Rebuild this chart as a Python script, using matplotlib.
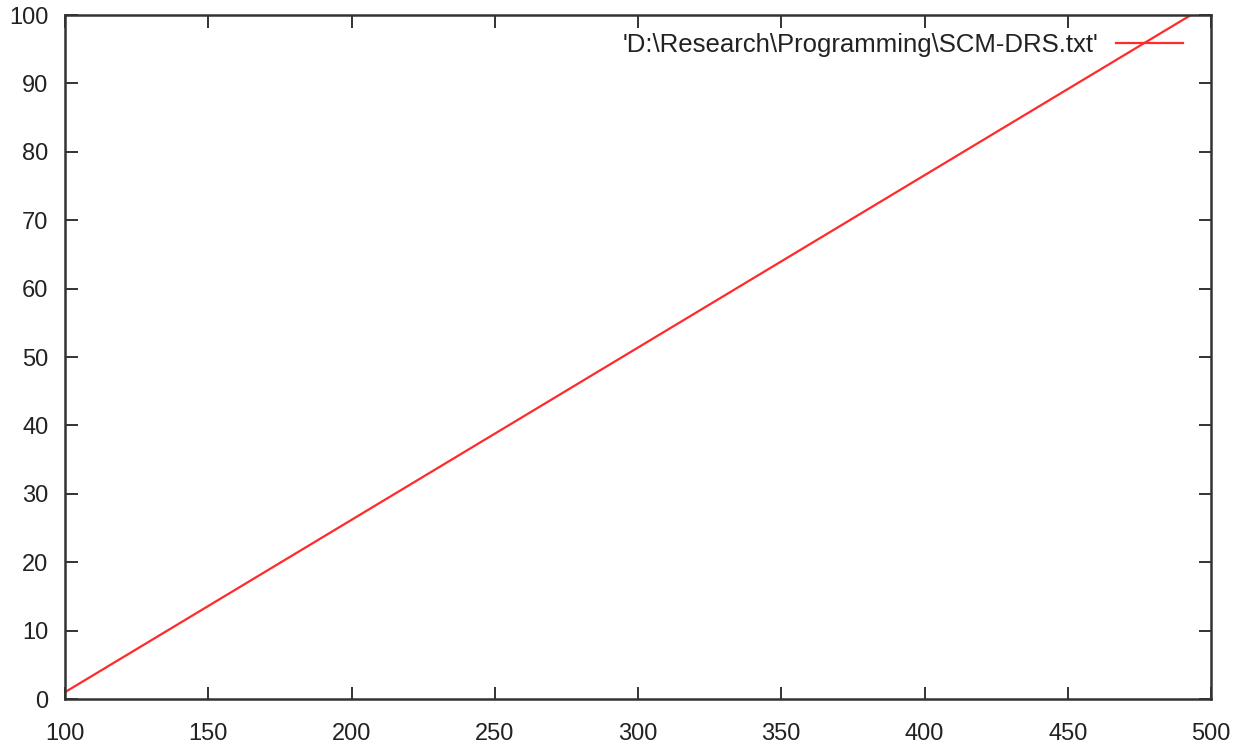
import matplotlib
matplotlib.use("Agg")
import matplotlib.pyplot as plt

# data
x = [100, 493]
y = [1, 100]
label = "'D:\\Research\\Programming\\SCM-DRS.txt'"
xticks = [100, 150, 200, 250, 300, 350, 400, 450, 500]
yticks = [0, 10, 20, 30, 40, 50, 60, 70, 80, 90, 100]

plt.rcParams['font.family'] = ['Liberation Sans', 'DejaVu Sans']

fig = plt.figure(figsize=(12.47, 7.47), dpi=100)
ax = fig.add_axes([65 / 1247, 48 / 747, (1211 - 65) / 1247, (699 - 15) / 747])

ax.plot(x, y, color='#ff2a2a', lw=1.6, label=label)

ax.set_xlim(100, 500)
ax.set_ylim(0, 100)
ax.set_xticks(xticks)
ax.set_yticks(yticks)
ax.tick_params(direction='in', length=9, width=1.4, color='#333333',
               top=True, right=True, labelsize=17, colors='#222222')
ax.tick_params(axis='x', pad=17)
ax.tick_params(axis='y', pad=12)
for s in ax.spines.values():
    s.set_linewidth(1.8)
    s.set_color('#333333')

leg = ax.legend(loc='upper right', frameon=False, markerfirst=False,
                fontsize=18.5, handlelength=2.6, handletextpad=0.7,
                borderaxespad=0.5, bbox_to_anchor=(0.9955, 1.008))
for t in leg.get_texts():
    t.set_color('#222222')

fig.savefig('out.png', dpi=100)
